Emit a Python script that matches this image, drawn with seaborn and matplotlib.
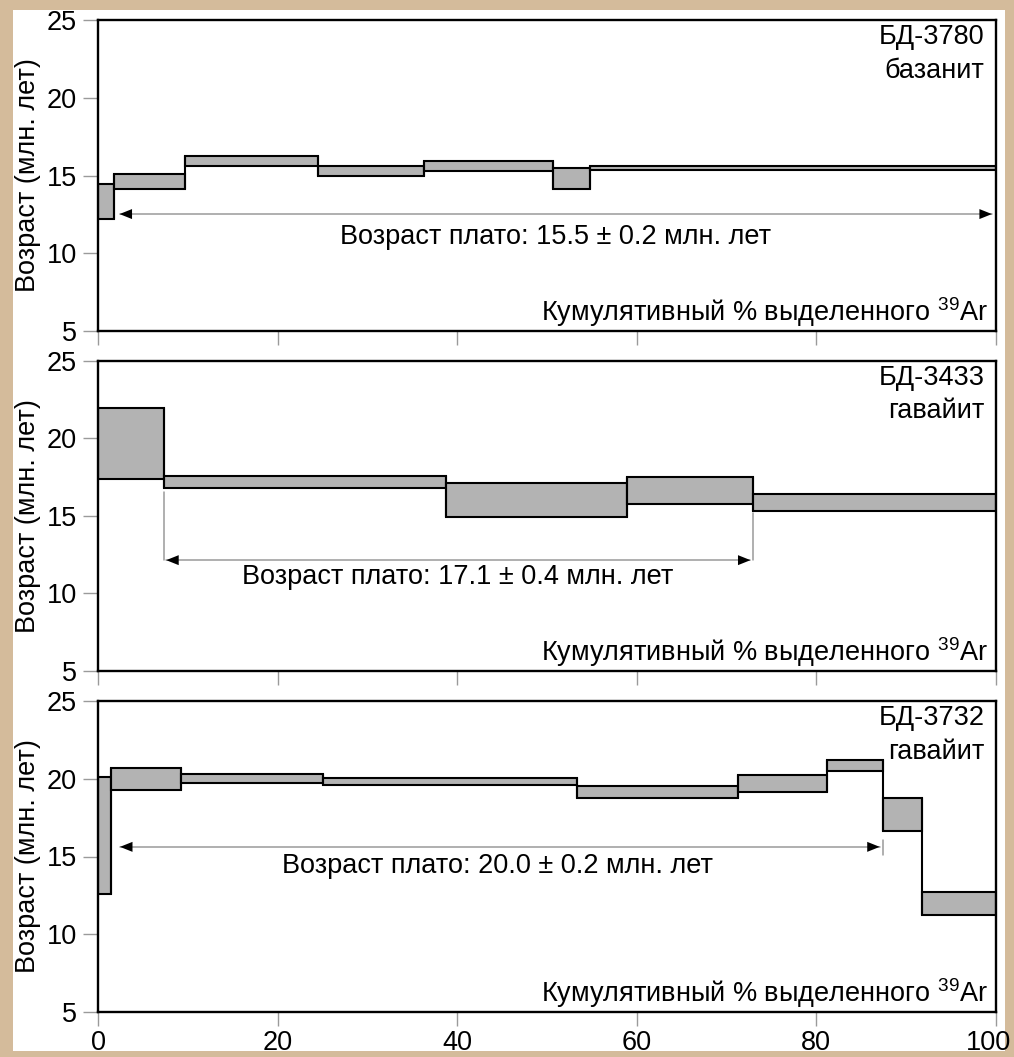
import matplotlib
matplotlib.use("Agg")
import matplotlib.pyplot as plt
import matplotlib.transforms as mtransforms
import seaborn as sns
from matplotlib.patches import Rectangle

# ---- step-heating spectra: cumulative % 39Ar edges, lower / upper age bounds (Ma)
s1_name, s1_rock = "БД-3780", "базанит"
s1_edges = [0, 1.8, 9.7, 24.5, 36.3, 50.7, 54.8, 100]
s1_lo = [12.22, 14.11, 15.63, 14.99, 15.31, 14.10, 15.33]
s1_hi = [14.48, 15.08, 16.27, 15.60, 15.93, 15.50, 15.60]
s1_plateau = "Возраст плато: 15.5 ± 0.2 млн. лет"

s2_name, s2_rock = "БД-3433", "гавайит"
s2_edges = [0, 7.35, 38.8, 58.9, 73.0, 100]
s2_lo = [17.39, 16.79, 14.95, 15.78, 15.30]
s2_hi = [21.95, 17.56, 17.10, 17.48, 16.37]
s2_plateau = "Возраст плато: 17.1 ± 0.4 млн. лет"

s3_name, s3_rock = "БД-3732", "гавайит"
s3_edges = [0, 1.4, 9.25, 25.1, 53.4, 71.35, 81.2, 87.5, 91.8, 100]
s3_lo = [12.62, 19.26, 19.75, 19.62, 18.76, 19.15, 20.48, 16.65, 11.27]
s3_hi = [20.11, 20.69, 20.33, 20.07, 19.53, 20.22, 21.23, 18.79, 12.69]
s3_plateau = "Возраст плато: 20.0 ± 0.2 млн. лет"

x_ticks = [0, 20, 40, 60, 80, 100]
y_ticks = [5, 10, 15, 20, 25]
y_label = "Возраст (млн. лет)"
x_label = "Кумулятивный % выделенного $^{39}$Ar"

sns.set_theme(style="ticks")
plt.rcParams["font.family"] = ["Liberation Sans", "DejaVu Sans"]
plt.rcParams["mathtext.fontset"] = "custom"
plt.rcParams["mathtext.rm"] = "Liberation Sans"
plt.rcParams["mathtext.it"] = "Liberation Sans:italic"
plt.rcParams["text.color"] = "black"
plt.rcParams["axes.labelcolor"] = "black"

FS = 19.5
BOX_FILL = "#b3b3b3"
TICK_GREY = "#9a9a9a"
TAN = "#d4bb9b"

W, H = 1014, 1057
fig = plt.figure(figsize=(W / 100, H / 100), dpi=100)
fig.patch.set_facecolor("white")

left = 98 / W
width = (995.5 - 98) / W
panel_px = [(20, 331), (360.5, 671), (701, 1012)]


def spectrum(ax, edges, lo, hi):
    lefts = edges[:-1]
    widths = [b - a for a, b in zip(edges[:-1], edges[1:])]
    heights = [h - l for l, h in zip(lo, hi)]
    ax.bar(lefts, heights, width=widths, bottom=lo, align="edge",
           color=BOX_FILL, edgecolor="black", linewidth=1.5, zorder=3)
    # vertical risers joining neighbouring steps
    inner = edges[1:-1]
    y0 = [min(a, b) for a, b in zip(lo[:-1], lo[1:])]
    y1 = [max(a, b) for a, b in zip(hi[:-1], hi[1:])]
    ax.vlines(inner, y0, y1, color="black", linewidth=1.5, zorder=3)


def head(ax, tip, tail, y):
    ax.annotate("", xy=(tip, y), xytext=(tail, y),
                arrowprops=dict(arrowstyle="-|>,head_length=0.9,head_width=0.36",
                                color="black", lw=0, shrinkA=0, shrinkB=0,
                                mutation_scale=10), zorder=4)


def plateau(ax, x0, x1, y, text, tx, ty):
    ax.plot([x0, x1], [y, y], color=TICK_GREY, lw=1.1, zorder=2)
    head(ax, x0, x0 + 3, y)
    head(ax, x1, x1 - 3, y)
    ax.text(tx, ty, text, ha="center", va="center", fontsize=FS, zorder=5)


axes = []
for i, (top_px, bot_px) in enumerate(panel_px):
    ax = fig.add_axes([left, 1 - bot_px / H, width, (bot_px - top_px) / H])
    axes.append(ax)
    ax.set_xlim(0, 100)
    ax.set_ylim(5, 25)
    ax.set_xticks(x_ticks)
    ax.set_yticks(y_ticks)
    for sp in ax.spines.values():
        sp.set_visible(True)
        sp.set_linewidth(1.7)
        sp.set_color("black")
        sp.set_zorder(6)
    ax.tick_params(axis="y", direction="out", length=11, width=1,
                   color=TICK_GREY, labelsize=FS, pad=4, labelcolor="black")
    ax.tick_params(axis="x", direction="out", length=10, width=1,
                   color=TICK_GREY, labelsize=FS, pad=3, labelcolor="black",
                   labelbottom=(i == 2))
    ax.set_ylabel(y_label, fontsize=FS)
    ax.yaxis.set_label_coords(-0.064, 0.5)
    ax.set_facecolor("white")
    ax.grid(False)
    ax.text(99.2, 6.2, x_label, ha="right", va="center", fontsize=FS, zorder=5)

ax1, ax2, ax3 = axes

spectrum(ax1, s1_edges, s1_lo, s1_hi)
plateau(ax1, 2.4, 99.6, 12.52, s1_plateau, 51.0, 11.05)

spectrum(ax2, s2_edges, s2_lo, s2_hi)
ax2.plot([s2_edges[1], s2_edges[1]], [16.55, 12.14], color=TICK_GREY, lw=1.1, zorder=2)
ax2.plot([s2_edges[4], s2_edges[4]], [15.2, 12.14], color=TICK_GREY, lw=1.1, zorder=2)
plateau(ax2, 7.6, 72.7, 12.14, s2_plateau, 40.05, 11.05)

spectrum(ax3, s3_edges, s3_lo, s3_hi)
ax3.plot([s3_edges[7], s3_edges[7]], [16.05, 15.08], color=TICK_GREY, lw=1.1, zorder=2)
plateau(ax3, 2.45, 87.1, 15.62, s3_plateau, 44.5, 14.38)

# keep the last tick label inside the page
fig.canvas.draw()
last = ax3.get_xticklabels()[-1]
last.set_transform(last.get_transform() +
                   mtransforms.ScaledTranslation(-5 / 72, 0, fig.dpi_scale_trans))

for ax, name, rock in ((ax1, s1_name, s1_rock), (ax2, s2_name, s2_rock),
                       (ax3, s3_name, s3_rock)):
    ax.text(98.8, 23.9, name, ha="right", va="center", fontsize=FS, zorder=5)
    ax.text(98.8, 21.75, rock, ha="right", va="center", fontsize=FS, zorder=5)

# tan page frame around the figure
frame = [((0, 0), 12.5 / W, 1, 10), ((0, 1 - 10 / H), 1, 10 / H, 10),
         ((0, 0), 1, 6 / H, 10), ((1005 / W, 0), 1 - 1005 / W, 1, -1)]
for xy, w, h, z in frame:
    fig.add_artist(Rectangle(xy, w, h, transform=fig.transFigure,
                             facecolor=TAN, edgecolor="none", zorder=z))

fig.savefig("out.png", dpi=100, facecolor=fig.get_facecolor())
